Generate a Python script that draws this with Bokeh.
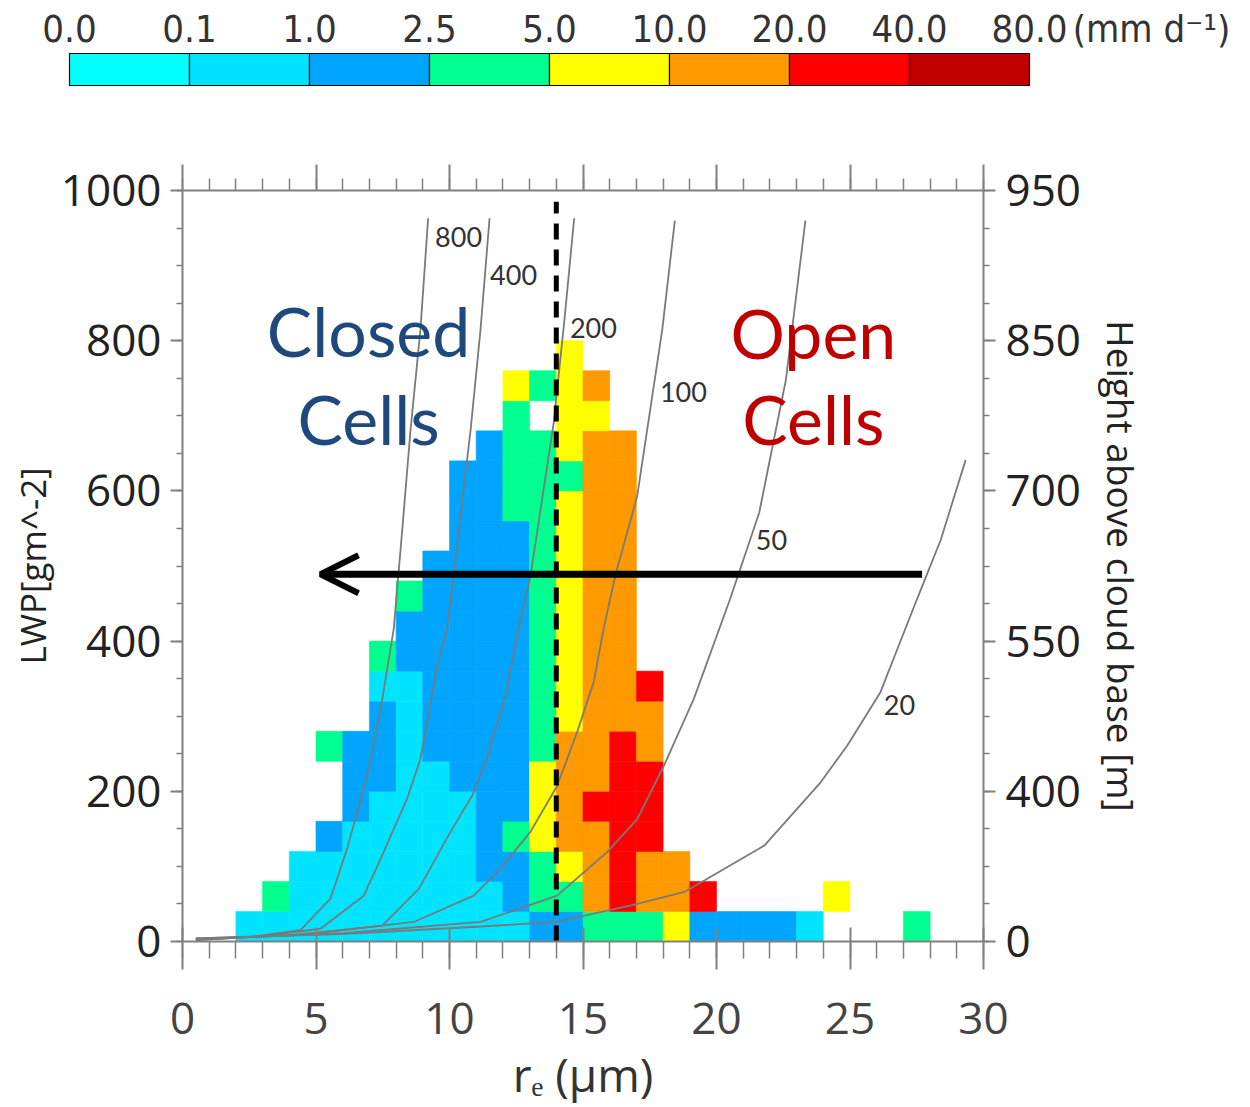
from bokeh.plotting import figure
from bokeh.models import Range1d, LinearAxis, FixedTicker, Arrow, OpenHead, ColumnDataSource
from bokeh.layouts import column
from bokeh.embed import file_html
from bokeh.resources import INLINE
from bokeh.core.properties import value

# ---------------- data ----------------
# rain-rate classes (colour bar)
rain_bounds = ["0.0", "0.1", "1.0", "2.5", "5.0", "10.0", "20.0", "40.0", "80.0"]
rain_colors = ["#00FFFF", "#00E4FF", "#00A5FF", "#00FF8E", "#FFFF00", "#FF9900", "#FF0000", "#C20000"]
rain_unit = "(mm d\u207b\u00b9)"

# class code -> index into rain_colors
class_index = {"c": 1, "b": 2, "g": 3, "y": 4, "o": 5, "r": 6}

# 2-D histogram: one string per 1-um r_e bin, one character per 40 g m-2 LWP bin (bottom -> top)
re_bin_start = list(range(2, 28))
re_bin_width = 1
lwp_bin_width = 40
rain_class_columns = [
    "c",                      # 2
    "cg",                     # 3
    "ccc",                    # 4
    "cccb..g",                # 5
    "ccccbbb",                # 6
    "cccccbbbcg",             # 7
    "cccccccccbbg",           # 8
    "ccccccbbbbbbb",          # 9
    "cccccbbbbbbbbbbb",       # 10
    "ccbbbbbbbbbbbbbbb",      # 11
    "cbbgbbbbbbbbbbggggy",    # 12
    "bggyyyggggggggggg.g",    # 13
    "bgyooooyyyyyyyygyyyy",   # 14
    "gooorooooooooooooyo",    # 15
    "grrrrrroooooooooo",      # 16
    "goorrroor",              # 17
    "yoo",                    # 18
    "br",                     # 19
    "b",                      # 20
    "b",                      # 21
    "b",                      # 22
    "c",                      # 23
    ".y",                     # 24
    "",                       # 25
    "",                       # 26
    "g",                      # 27
]

# iso-lines (r_e [um], LWP [g m-2])
c800_re = [9.20, 8.91, 8.54, 8.23, 7.91, 7.42, 6.92, 6.17, 5.54, 4.42, 2.50, 0.50]
c800_lwp = [963, 814, 681, 548, 416, 309, 221, 124, 57, 15, 6, 2]
c400_re = [11.50, 11.16, 10.79, 10.35, 9.91, 9.54, 8.91, 8.41, 7.42, 6.79, 5.17, 3.00, 0.50]
c400_lwp = [963, 814, 681, 548, 416, 367, 243, 190, 110, 61, 17, 7, 2]
c200_re = [14.67, 14.30, 13.90, 13.03, 12.58, 12.10, 11.35, 10.85, 10.10, 8.85, 7.48, 4.00, 0.50]
c200_lwp = [963, 826, 690, 486, 416, 327, 239, 194, 150, 70, 21, 8, 3]
c100_re = [18.44, 17.97, 17.03, 16.22, 15.77, 15.40, 14.78, 14.03, 13.03, 11.91, 10.91, 8.66, 4.50, 0.50]
c100_lwp = [960, 815, 593, 489, 416, 345, 279, 207, 146, 97, 61, 26, 9, 3]
c50_re = [23.33, 22.60, 21.60, 20.50, 19.15, 18.03, 17.03, 15.90, 14.03, 11.16, 6.00, 0.50]
c50_lwp = [960, 748, 571, 455, 323, 234, 163, 119, 61, 26, 11, 4]
c20_re = [29.33, 28.40, 27.50, 26.14, 24.90, 23.90, 21.80, 18.80, 16.80, 14.00, 11.20, 6.00, 0.50]
c20_lwp = [641, 535, 455, 332, 261, 212, 128, 66, 48, 26, 20, 10, 4]
curve_labels = ["800", "400", "200", "100", "50", "20"]
curve_label_re = [10.34, 12.40, 15.39, 18.76, 22.06, 26.85]
curve_label_lwp = [938, 887, 817, 732, 534, 315]

re_threshold = 14.0
x_ticks = [0, 5, 10, 15, 20, 25, 30]
lwp_ticks = [0, 200, 400, 600, 800, 1000]
height_labels = ["0", "400", "550", "700", "850", "950"]


def no_align(fig):
    if "frame_align" in fig.properties():
        fig.frame_align = False


# ---------------- colour bar figure ----------------
cb = figure(width=1250, height=100, x_range=Range1d(-69 / 120, (1250 - 69) / 120),
            y_range=Range1d(0, 100), output_backend="svg", toolbar_location=None,
            min_border=0, min_border_left=0, min_border_right=0, min_border_top=0, min_border_bottom=0)
no_align(cb)
cb.axis.visible = False
cb.grid.visible = False
cb.outline_line_color = None
idx = list(range(len(rain_colors)))
cb.quad(left=idx, right=[i + 1 for i in idx], bottom=15, top=47, fill_color=rain_colors,
        line_color="black", line_width=1.2)
cb.text(x=list(range(len(rain_bounds))), y=72, text=rain_bounds, text_align="center",
        text_baseline="middle", text_font=value("DejaVu Sans Condensed"), text_font_size="38px",
        text_color="#333333")
cb.text(x=[len(rain_bounds) - 1 + 0.36], y=[72], text=[rain_unit], text_align="left",
        text_baseline="middle", text_font=value("DejaVu Sans Condensed"), text_font_size="38px",
        text_color="#333333")

# ---------------- main figure ----------------
p = figure(width=1250, height=1007, x_range=Range1d(0, 30), y_range=Range1d(0, 1000),
           output_backend="svg", toolbar_location=None,
           min_border_left=182, min_border_right=267, min_border_top=90, min_border_bottom=164)
no_align(p)
p.grid.visible = False
p.outline_line_color = None

left, right, bottom, top, color = [], [], [], [], []
for x0, codes in zip(re_bin_start, rain_class_columns):
    for j, ch in enumerate(codes):
        if ch == ".":
            continue
        left.append(x0)
        right.append(x0 + re_bin_width)
        bottom.append(j * lwp_bin_width)
        top.append((j + 1) * lwp_bin_width)
        color.append(rain_colors[class_index[ch]])
src = ColumnDataSource(dict(left=left, right=right, bottom=bottom, top=top, color=color))
p.quad(left="left", right="right", bottom="bottom", top="top", fill_color="color",
       line_color="color", line_width=0.6, source=src)

curve_col = "#7a7a7a"
for xs, ys in [(c800_re, c800_lwp), (c400_re, c400_lwp), (c200_re, c200_lwp),
               (c100_re, c100_lwp), (c50_re, c50_lwp), (c20_re, c20_lwp)]:
    p.line(xs, ys, line_color=curve_col, line_width=1.8)
p.text(x=curve_label_re, y=curve_label_lwp, text=curve_labels, text_align="center",
       text_baseline="middle", text_font=value("Lato"), text_font_size="27px", text_color="#333333")

p.line([re_threshold, re_threshold], [0, 985], line_color="black", line_width=5, line_dash="16 10")

p.add_layout(Arrow(end=OpenHead(size=38, line_width=6, line_color="black"),
                   x_start=27.7, y_start=489, x_end=5.17, y_end=489,
                   line_width=7, line_color="black"))

p.text(x=[6.97, 6.97], y=[814, 697], text=["Closed", "Cells"], text_align="center",
       text_baseline="middle", text_font=value("Lato"), text_font_size="68px", text_color="#1F497D")
p.text(x=[23.63, 23.63], y=[811, 697], text=["Open", "Cells"], text_align="center",
       text_baseline="middle", text_font=value("Lato"), text_font_size="68px", text_color="#C00000")

axis_col = "#808080"
tick_font = "Open Sans"

xa = p.xaxis[0]
xa.ticker = FixedTicker(ticks=x_ticks, minor_ticks=list(range(0, 31)))
xa.axis_label = "r\u2091 (\u03bcm)"
xa.axis_label_text_font = "Open Sans"
xa.axis_label_text_font_style = "normal"
xa.axis_label_text_font_size = "46px"
xa.axis_label_text_color = "#333333"
xa.axis_label_standoff = 6
xa.major_label_text_font = tick_font
xa.major_label_text_font_size = "44px"
xa.major_label_text_color = "#444444"
xa.major_label_standoff = 33
xa.major_tick_in = 14
xa.major_tick_out = 28
xa.minor_tick_in = 0
xa.minor_tick_out = 17

ya = p.yaxis[0]
ya.ticker = FixedTicker(ticks=lwp_ticks, minor_ticks=list(range(0, 1001, 50)))
ya.axis_label = "LWP[gm^-2]"
ya.axis_label_text_font = "Open Sans"
ya.axis_label_text_font_style = "normal"
ya.axis_label_text_font_size = "35px"
ya.axis_label_text_color = "#222222"
ya.axis_label_standoff = 2
ya.major_label_text_font = tick_font
ya.major_label_text_font_size = "44px"
ya.major_label_text_color = "#222222"
ya.major_label_standoff = 9
ya.major_tick_in = 0
ya.major_tick_out = 12
ya.minor_tick_in = 0
ya.minor_tick_out = 6

ra = LinearAxis(ticker=FixedTicker(ticks=lwp_ticks, minor_ticks=list(range(0, 1001, 50))),
                major_label_overrides={t: s for t, s in zip(lwp_ticks, height_labels)},
                axis_label="Height above cloud base [m]")
ra.axis_label_text_font = "Open Sans"
ra.axis_label_text_font_style = "normal"
ra.axis_label_text_font_size = "37px"
ra.axis_label_text_color = "#222222"
ra.axis_label_standoff = 12
ra.major_label_text_font = tick_font
ra.major_label_text_font_size = "44px"
ra.major_label_text_color = "#222222"
ra.major_label_standoff = 10
ra.major_tick_in = 0
ra.major_tick_out = 12
ra.minor_tick_in = 0
ra.minor_tick_out = 6
p.add_layout(ra, "right")

ta = LinearAxis(ticker=FixedTicker(ticks=x_ticks, minor_ticks=list(range(0, 31))),
                major_label_overrides={t: "" for t in x_ticks})
ta.major_tick_in = 0
ta.major_tick_out = 26
ta.minor_tick_in = 0
ta.minor_tick_out = 12
p.add_layout(ta, "above")

for ax in [xa, ya, ra, ta]:
    ax.axis_line_color = axis_col
    ax.axis_line_width = 2
    ax.major_tick_line_color = axis_col
    ax.major_tick_line_width = 2
    ax.minor_tick_line_color = axis_col
    ax.minor_tick_line_width = 1.5

layout = column(cb, p, spacing=0)
open("out.html", "w").write(file_html(layout, INLINE))
